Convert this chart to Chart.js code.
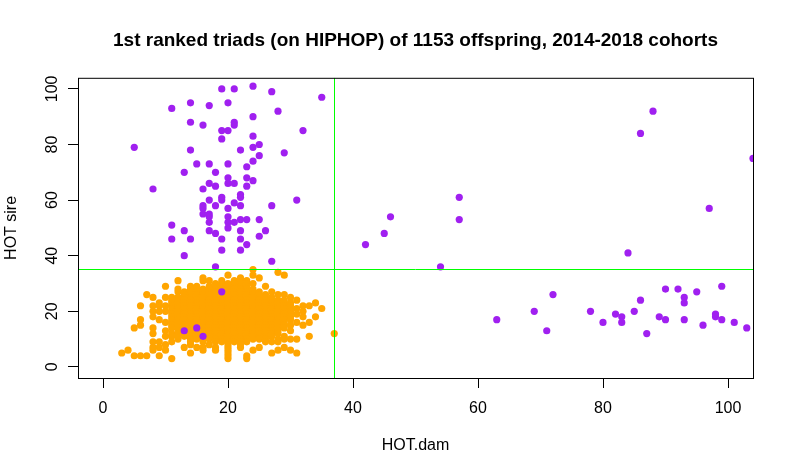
<!DOCTYPE html>
<html>
<head>
<meta charset="utf-8">
<title>1st ranked triads</title>
<script src="https://cdn.jsdelivr.net/npm/chart.js@4.4.1/dist/chart.umd.min.js"></script>
<style>
  html, body { margin: 0; padding: 0; background: #fff; }
  #wrap { width: 794px; height: 476px; }
</style>
</head>
<body>
<div id="wrap"><canvas id="myChart" width="794" height="476"></canvas></div>
<script>
const titleText = "1st ranked triads (on HIPHOP) of 1153 offspring, 2014-2018 cohorts";
const xLabel = "HOT.dam";
const yLabel = "HOT sire";
const xTicks = [0, 20, 40, 60, 80, 100];
const yTicks = [0, 20, 40, 60, 80, 100];
const xRange = [-4, 104];
const yRange = [-4, 104];
const damCut = 37;
const sireCut = 35.2;

// purple triads (outside the main box)
const purpleX = [19, 21, 24, 27, 35, 11, 14, 17, 20, 28, 24, 14, 16, 21, 21, 19, 20, 32, 19, 24,
  5, 14, 22, 24, 25, 29, 25, 24, 15, 17, 20, 23, 13, 18, 20, 23, 24, 17, 18, 20, 21, 23,
  8, 16, 22, 22, 19, 19, 31, 17, 21, 16, 16, 18, 22, 27, 20, 16, 17, 17, 17, 20, 20, 21,
  22, 23, 25, 11, 13, 17, 18, 20, 22, 26, 25, 11, 14, 19, 22, 23, 19, 22, 13, 27, 18,
  19, 13, 15, 16,
  42, 45, 46, 54, 57, 57, 63, 69, 71, 72, 78, 80, 82, 83, 83, 84, 85, 86, 86, 87, 88,
  89, 90, 90, 92, 93, 93, 93, 95, 96, 97, 98, 98, 99, 99, 101, 103, 104];
const purpleY = [100, 100, 101, 99, 97, 93, 95, 94, 95, 92, 90, 88, 87, 88, 87, 85, 85, 85, 82, 83,
  79, 78, 78, 79, 80, 77, 76, 74, 73, 73, 73, 72, 70, 70, 68, 68, 67, 66, 65, 66, 66, 65,
  64, 64, 62, 61, 61, 60, 60, 60, 59, 58, 57, 58, 58, 58, 57, 55, 55, 54, 52, 54, 52, 52,
  53, 53, 53, 51, 49, 49, 48, 50, 49, 49, 47, 46, 46, 46, 46, 44, 42, 42, 40, 38, 36,
  27, 13, 14, 11,
  44, 48, 54, 36, 61, 53, 17, 20, 13, 26, 20, 16, 19, 18, 16, 41, 20, 84, 24, 12, 92,
  18, 28, 17, 28, 25, 23, 17, 27, 15, 57, 19, 18, 29, 17, 16, 14, 75];

// orange triads, one row per HOT sire value
const orangeY = [35, 34, 33, 32, 31, 30, 29, 28, 27, 26, 25, 24, 23, 22, 21, 20, 19, 18,
  17, 16, 15, 14, 13, 12, 11, 10, 9, 8, 7, 6, 5, 4, 3];
const orangeX = [
  [24],
  [28],
  [20, 24, 29],
  [16, 22, 25],
  [12, 16, 17, 19, 21, 22, 23],
  [18, 19, 20, 21, 22, 23, 24],
  [10, 14, 15, 17, 18, 19, 20, 21, 22, 23, 26],
  [12, 14, 15, 16, 17, 18, 19, 20, 21, 22, 23, 24],
  [12, 13, 14, 15, 16, 17, 18, 20, 21, 22, 23, 24, 25, 27],
  [7, 13, 14, 15, 16, 17, 18, 19, 20, 21, 22, 23, 24, 25, 26, 28, 29],
  [8, 10, 11, 12, 13, 14, 15, 16, 17, 18, 19, 20, 21, 22, 23, 24, 25, 26, 27, 30],
  [11, 12, 13, 14, 15, 16, 17, 18, 19, 20, 21, 22, 23, 24, 25, 26, 27, 28, 29, 31],
  [9, 11, 12, 13, 14, 15, 16, 17, 18, 19, 20, 21, 22, 23, 24, 25, 26, 27, 28, 29, 30, 34],
  [6, 8, 9, 10, 11, 12, 13, 14, 15, 16, 17, 18, 19, 20, 21, 22, 23, 24, 25, 26, 27, 28, 29, 30, 32, 33],
  [11, 12, 13, 14, 15, 16, 17, 18, 19, 20, 21, 22, 23, 24, 25, 26, 27, 28, 29, 30, 31, 35],
  [8, 9, 10, 11, 12, 13, 14, 15, 16, 17, 18, 19, 20, 21, 22, 23, 24, 25, 26, 27, 28, 29, 30, 32],
  [11, 12, 13, 14, 15, 16, 17, 18, 19, 20, 21, 22, 23, 24, 25, 26, 27, 28, 29, 30, 31],
  [8, 11, 12, 13, 14, 15, 16, 17, 18, 19, 20, 21, 22, 23, 24, 25, 26, 27, 28, 29, 30, 32, 34],
  [6, 9, 11, 12, 13, 14, 15, 16, 17, 18, 19, 20, 21, 22, 23, 24, 25, 26, 27, 28, 29, 30],
  [10, 11, 12, 13, 14, 15, 16, 17, 18, 19, 20, 21, 22, 23, 24, 25, 26, 27, 28, 29, 31, 33],
  [6, 11, 12, 13, 14, 15, 16, 17, 18, 19, 20, 21, 22, 23, 24, 25, 26, 27, 28, 29, 30, 32],
  [5, 8, 11, 12, 13, 14, 15, 16, 17, 18, 19, 20, 21, 22, 23, 24, 25, 26, 27, 28, 29],
  [10, 12, 13, 14, 15, 16, 17, 18, 19, 20, 21, 22, 23, 24, 25, 26, 27, 28, 30],
  [8, 11, 12, 13, 14, 15, 16, 17, 18, 19, 20, 21, 22, 23, 24, 25, 26, 27, 28],
  [10, 11, 12, 13, 14, 15, 16, 17, 18, 19, 20, 21, 22, 23, 24, 25, 26, 27, 29, 33],
  [12, 14, 15, 16, 17, 18, 19, 20, 21, 22, 23, 24, 25, 26, 28, 29, 30, 31],
  [8, 9, 11, 14, 16, 18, 19, 20, 21, 22, 23, 26, 27, 28],
  [10, 14, 17, 20, 22],
  [8, 9, 13, 15, 16, 18, 20, 22, 25, 29],
  [4, 8, 10, 16, 18, 20, 24, 28, 30],
  [3, 14, 20, 27, 31],
  [5, 6, 7, 9, 20, 23],
  [11, 20, 23]
];
// the lone orange point sitting on the dam cut-off
const orangeExtraX = [37];
const orangeExtraY = [12];

const orangePts = [];
orangeY.forEach((y, i) => orangeX[i].forEach(x => orangePts.push({ x: x, y: y })));
orangeExtraX.forEach((x, i) => orangePts.push({ x: x, y: orangeExtraY[i] }));
const purplePts = purpleX.map((x, i) => ({ x: x, y: purpleY[i] }));

// cut-off lines + R style box
const framePlugin = {
  id: "frame",
  afterDatasetsDraw(chart) {
    const { ctx, chartArea: a, scales } = chart;
    ctx.save();
    ctx.beginPath();
    ctx.rect(a.left, a.top, a.right - a.left, a.bottom - a.top);
    ctx.clip();
    ctx.strokeStyle = "#00ff00";
    ctx.lineWidth = 1;
    const gx = Math.round(scales.x.getPixelForValue(damCut)) + 0.5;
    const gy = Math.round(scales.y.getPixelForValue(sireCut)) + 0.5;
    ctx.beginPath();
    ctx.moveTo(gx, a.top); ctx.lineTo(gx, a.bottom);
    ctx.moveTo(a.left, gy); ctx.lineTo(a.right, gy);
    ctx.stroke();
    ctx.restore();
    ctx.save();
    ctx.strokeStyle = "#000";
    ctx.lineWidth = 1;
    ctx.strokeRect(a.left + 0.5, a.top + 0.5, a.right - a.left, a.bottom - a.top);
    ctx.restore();
  }
};

Chart.defaults.font.family = "'Liberation Sans', Arial, sans-serif";
Chart.defaults.color = "#000";

new Chart(document.getElementById("myChart").getContext("2d"), {
  type: "scatter",
  data: {
    datasets: [
      {
        label: "purple",
        data: purplePts,
        backgroundColor: "#a020f0",
        pointRadius: 3.6,
        pointBorderWidth: 0,
        clip: 0,
        order: 0
      },
      {
        label: "orange",
        data: orangePts,
        backgroundColor: "#ffa500",
        pointRadius: 3.6,
        pointBorderWidth: 0,
        clip: 0,
        order: 1
      }
    ]
  },
  options: {
    responsive: false,
    animation: false,
    layout: { padding: { left: 0, right: 41, top: 0, bottom: 0 } },
    plugins: {
      legend: { display: false },
      tooltip: { enabled: false },
      title: {
        display: true,
        text: titleText,
        fullSize: false,
        font: { size: 19, weight: "bold" },
        color: "#000",
        padding: { top: 29, bottom: 26 }
      }
    },
    scales: {
      x: {
        type: "linear",
        min: xRange[0],
        max: xRange[1],
        afterBuildTicks: s => { s.ticks = xTicks.map(v => ({ value: v })); },
        afterFit: s => { s.height = 98; },
        grid: { drawOnChartArea: false, color: "#000", tickLength: 10 },
        border: { display: false },
        ticks: { font: { size: 16 }, padding: 11, maxRotation: 0, autoSkip: false },
        title: { display: true, text: xLabel, font: { size: 16 }, padding: { bottom: 21 } }
      },
      y: {
        type: "linear",
        min: yRange[0],
        max: yRange[1],
        afterBuildTicks: s => { s.ticks = yTicks.map(v => ({ value: v })); },
        afterFit: s => { s.width = 78; },
        grid: { drawOnChartArea: false, color: "#000", tickLength: 10 },
        border: { display: false },
        ticks: { font: { size: 16 }, padding: 2, minRotation: 90, maxRotation: 90, crossAlign: "center", autoSkip: false },
        title: { display: true, text: yLabel, font: { size: 16 }, padding: { top: 2 } }
      }
    }
  },
  plugins: [framePlugin]
});
</script>
</body>
</html>
